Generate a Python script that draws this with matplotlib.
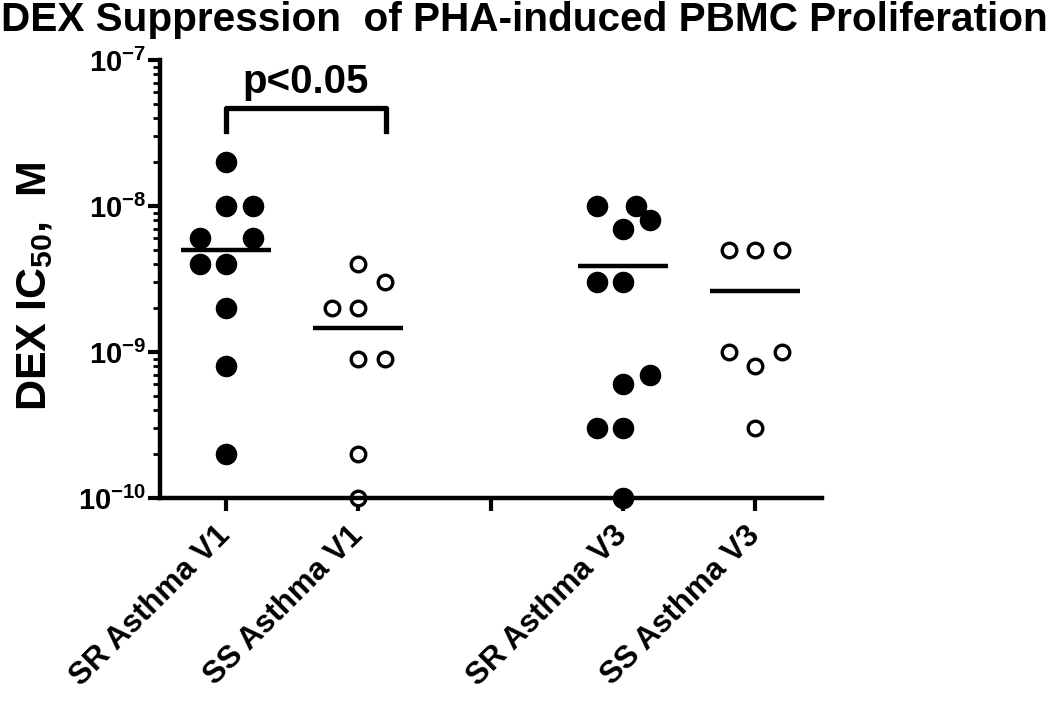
import matplotlib
matplotlib.use('Agg')
import matplotlib.pyplot as plt
from matplotlib.ticker import LogLocator, NullFormatter

plt.rcParams['font.family'] = ['Liberation Sans', 'DejaVu Sans']
plt.rcParams['mathtext.fontset'] = 'custom'
plt.rcParams['mathtext.rm'] = 'Liberation Sans:bold'
plt.rcParams['mathtext.it'] = 'Liberation Sans:bold:italic'
plt.rcParams['mathtext.bf'] = 'Liberation Sans:bold'
plt.rcParams['axes.unicode_minus'] = False

# category labels (slot 2 is an empty gap)
groups = ['SR Asthma V1', 'SS Asthma V1', '', 'SR Asthma V3', 'SS Asthma V3']

# DEX IC50 values (M)
sr_v1 = [2e-8, 1e-8, 1e-8, 6e-9, 6e-9, 4e-9, 4e-9, 2e-9, 8e-10, 2e-10]
ss_v1 = [4e-9, 3e-9, 2e-9, 2e-9, 9e-10, 9e-10, 2e-10, 1e-10]
sr_v3 = [1e-8, 1e-8, 8e-9, 7e-9, 3e-9, 3e-9, 7e-10, 6e-10, 3e-10, 3e-10, 1e-10]
ss_v3 = [5e-9, 5e-9, 5e-9, 1e-9, 1e-9, 8e-10, 3e-10]

# horizontal centre lines drawn in each column
centre_lines = [5e-9, 1.45e-9, 3.9e-9, 2.6e-9]

# scatter spread within each column (in point widths)
sr_v1_spread = [0, 0, 1, -1, 1, -1, 0, 0, 0, 0]
ss_v1_spread = [0, 1, -1, 0, 0, 1, 0, 0]
sr_v3_spread = [-1, 0.5, 1, 0, -1, 0, 1, 0, -1, 0, 0]
ss_v3_spread = [-1, 0, 1, -1, 1, 0, 0]

fig = plt.figure(figsize=(10.5, 7.01), dpi=100)
ax = fig.add_axes([0.1524, 0.2896, 0.630, 0.6248])

step = 0.2
cols = [(0, sr_v1, sr_v1_spread, True),
        (1, ss_v1, ss_v1_spread, False),
        (3, sr_v3, sr_v3_spread, True),
        (4, ss_v3, ss_v3_spread, False)]

for (pos, vals, spread, filled), line in zip(cols, centre_lines):
    xs = [pos + s * step for s in spread]
    if filled:
        ax.plot(xs, vals, 'o', color='black', markersize=14.5, linestyle='none',
                clip_on=False, zorder=2.2)
    else:
        ax.plot(xs, vals, 'o', markerfacecolor='white', markeredgecolor='black',
                markeredgewidth=2.4, markersize=10.5, linestyle='none',
                clip_on=False, zorder=2.2)
    ax.plot([pos - 0.34, pos + 0.34], [line, line], color='black', lw=3.2,
            solid_capstyle='butt', zorder=2)

ax.set_yscale('log')
ax.set_ylim(1e-10, 1e-7)
ax.set_xlim(-0.5, 4.5)
ax.yaxis.set_major_locator(LogLocator(base=10))
ax.yaxis.set_minor_locator(LogLocator(base=10, subs=range(2, 10)))
ax.yaxis.set_minor_formatter(NullFormatter())

ax.set_xticks(range(len(groups)))
ax.set_xticklabels(groups, rotation=45, ha='right', va='center',
                   rotation_mode='anchor', fontsize=22.5, fontweight='bold')

for side in ['top', 'right']:
    ax.spines[side].set_visible(False)
for side in ['left', 'bottom']:
    ax.spines[side].set_linewidth(3.2)
    ax.spines[side].set_zorder(3)

ax.tick_params(axis='y', which='major', length=9, width=3, labelsize=21, pad=1)
ax.tick_params(axis='y', which='minor', length=5, width=2)
ax.tick_params(axis='x', length=9, width=3, pad=15)
for lbl in ax.get_yticklabels():
    lbl.set_fontweight('bold')

# significance bracket
ax.plot([0, 0, 1.21, 1.21], [3.25e-8, 4.7e-8, 4.7e-8, 3.25e-8], color='black',
        lw=3.8, clip_on=False)
ax.text(0.6, 5.9e-8, 'p<0.05', ha='center', va='baseline', fontsize=29,
        fontweight='bold')

fig.text(0.001, 0.998, 'DEX Suppression  of PHA-induced PBMC Proliferation',
         ha='left', va='top', fontsize=29.2, fontweight='bold')
fig.text(0.033, 0.592, 'DEX IC$_{50}$,  M', rotation=90, ha='center', va='center',
         fontsize=31, fontweight='bold')

fig.savefig('out.png', dpi=100)
